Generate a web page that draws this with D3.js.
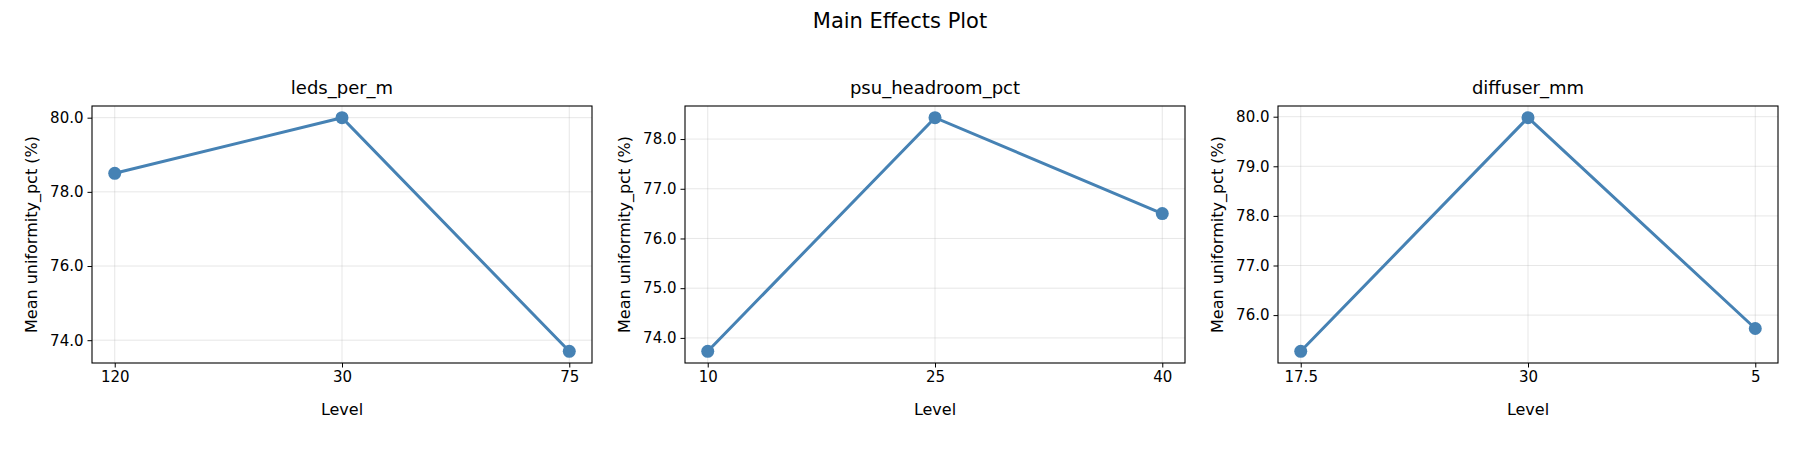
<!DOCTYPE html>
<html><head><meta charset="utf-8">
<script src="https://cdn.jsdelivr.net/npm/d3@7"></script>
<style>body{margin:0;background:#fff}text{font-family:"DejaVu Sans",sans-serif;fill:#000}</style>
</head><body><svg id="c" width="1800" height="450"></svg>
<script>
const factors = ["leds_per_m","psu_headroom_pct","diffuser_mm"];
const levels1 = ["120","30","75"];
const means1 = [78.5, 80.0, 73.7];
const levels2 = ["10","25","40"];
const means2 = [73.73, 78.43, 76.5];
const levels3 = ["17.5","30","5"];
const means3 = [75.27, 79.98, 75.73];
const ticks1 = [74,76,78,80];
const ticks2 = [74,75,76,77,78];
const ticks3 = [76,77,78,79,80];
const panels = [
  {name:factors[0], levels:levels1, means:means1, ticks:ticks1, x0:92},
  {name:factors[1], levels:levels2, means:means2, ticks:ticks2, x0:685},
  {name:factors[2], levels:levels3, means:means3, ticks:ticks3, x0:1278}
];
const svg = d3.select("#c");
svg.append("text").attr("x",900).attr("y",28).attr("text-anchor","middle").attr("font-size",21).text("Main Effects Plot");
const W=500, topY=106, H=257, color="#4682b4";
panels.forEach(p=>{
  const g = svg.append("g").attr("transform",`translate(${p.x0},${topY})`);
  const x = d3.scaleLinear().domain([-0.1,2.1]).range([0,W]);
  const [mn,mx] = d3.extent(p.means), pad=(mx-mn)*0.05;
  const y = d3.scaleLinear().domain([mn-pad,mx+pad]).range([H,0]);
  g.selectAll(".gx").data(p.levels).join("line").attr("x1",(d,i)=>x(i)).attr("x2",(d,i)=>x(i)).attr("y1",0).attr("y2",H).attr("stroke","#b0b0b0").attr("stroke-opacity",0.3);
  g.selectAll(".gy").data(p.ticks).join("line").attr("y1",d=>y(d)).attr("y2",d=>y(d)).attr("x1",0).attr("x2",W).attr("stroke","#b0b0b0").attr("stroke-opacity",0.3);
  const xa = g.append("g").attr("transform",`translate(0,${H})`).call(d3.axisBottom(x).tickValues([0,1,2]).tickFormat(i=>p.levels[i]).tickSize(4.5).tickPadding(4));
  const ya = g.append("g").call(d3.axisLeft(y).tickValues(p.ticks).tickSize(4.5).tickPadding(4));
  [xa,ya].forEach(a=>{a.select(".domain").remove();a.selectAll("text").attr("font-size",15).style("font-family","DejaVu Sans");a.selectAll("line").attr("stroke","#000");});
  g.append("rect").attr("width",W).attr("height",H).attr("fill","none").attr("stroke","#000").attr("stroke-width",1.1);
  g.append("path").datum(p.means).attr("fill","none").attr("stroke",color).attr("stroke-width",3)
    .attr("d",d3.line().x((d,i)=>x(i)).y(d=>y(d)));
  g.selectAll(".pt").data(p.means).join("circle").attr("cx",(d,i)=>x(i)).attr("cy",d=>y(d)).attr("r",6.5).attr("fill",color);
  g.append("text").attr("x",W/2).attr("y",-12).attr("text-anchor","middle").attr("font-size",18).text(p.name);
  g.append("text").attr("x",W/2).attr("y",H+52).attr("text-anchor","middle").attr("font-size",16).text("Level");
  g.append("text").attr("transform",`translate(-61,${H/2}) rotate(-90)`).attr("text-anchor","middle").attr("dy","0.35em").attr("font-size",16).text("Mean uniformity_pct (%)");
});
</script></body></html>
